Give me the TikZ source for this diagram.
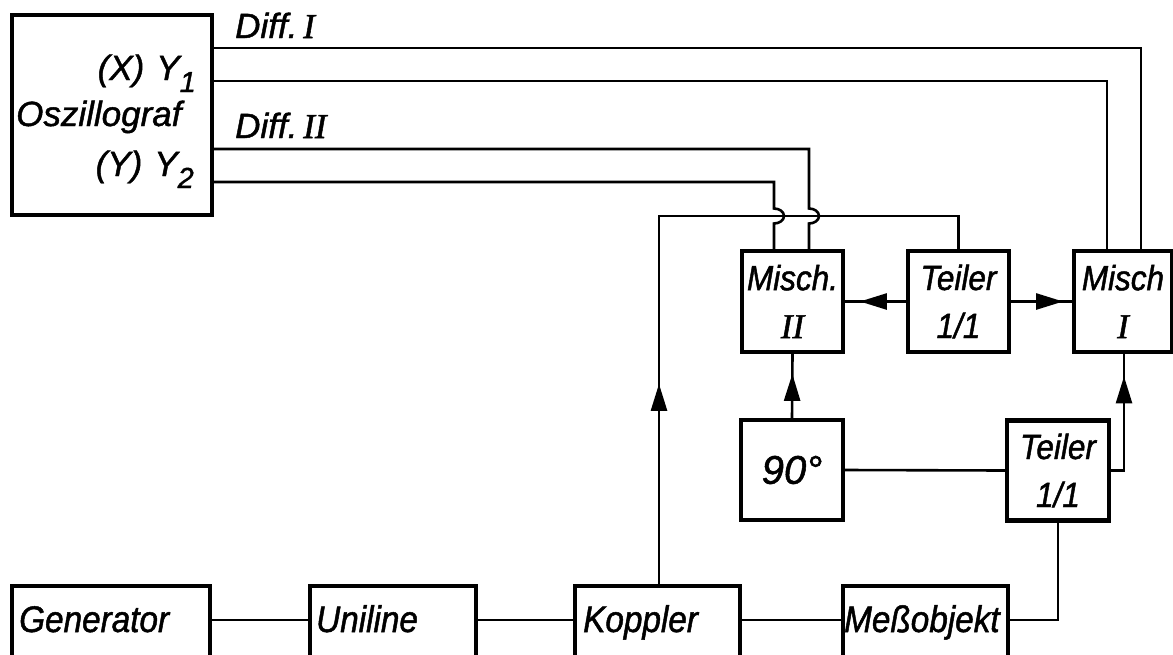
\documentclass[tikz,border=0pt]{standalone}
\usepackage{fontspec}
\setmainfont{Liberation Sans}[FakeBold=1.3]
\newfontfamily\narrowfont{Liberation Sans}[FakeStretch=0.9,FakeBold=1.3]
\newfontfamily\romfont{Liberation Serif}[FakeBold=1.5]
\usetikzlibrary{arrows.meta,decorations.markings}
\newcommand{\RomI}{{\romfont\itshape I}}
\newcommand{\RomII}{{\romfont\itshape II}}
\begin{document}
\begin{tikzpicture}[x=1pt,y=-1pt,
  blk/.style={draw,line width=4.2pt,inner sep=0pt,align=center,
    font=\narrowfont\fontsize{35}{48}\selectfont\itshape},
  wire/.style={line width=2.6pt},
  lbl/.style={inner sep=0pt,font=\fontsize{35}{40}\selectfont\itshape},
  rowlbl/.style={inner sep=0pt,font=\narrowfont\fontsize{37}{40}\selectfont\itshape},
  midarrow/.style={postaction=decorate,decoration={markings,
    mark=at position #1 with {\arrow{Triangle[length=27pt,width=16pt]}}}}
]
\useasboundingbox (0,0) rectangle (1173,654);
\begin{scope}
\clip (0,0) rectangle (1173,654);
% boxes
\node[blk,minimum width=200pt,minimum height=200pt] (osc) at (112,115) {};
\node[blk,minimum width=101pt,minimum height=101pt] (m2) at (792.5,301.5) {Misch.\\\RomII};
\node[blk,minimum width=101pt,minimum height=101pt] (t1) at (958.5,301.5) {Teiler\\1/1};
\node[blk,minimum width=98pt,minimum height=101pt] (m1) at (1123,301.5) {Misch\\\RomI};
\node[blk,minimum width=102pt,minimum height=100pt,font=\fontsize{40}{44}\selectfont\itshape] (n90) at (792,470) {90°};
\node[blk,minimum width=102pt,minimum height=100pt] (t2) at (1058,470.5) {Teiler\\1/1};
\node[blk,minimum width=198pt,minimum height=114pt] (gen) at (111,643) {};
\node[blk,minimum width=166pt,minimum height=114pt] (uni) at (393,643) {};
\node[blk,minimum width=165pt,minimum height=114pt] (kop) at (657.5,643) {};
\node[blk,minimum width=165pt,minimum height=114pt] (mes) at (925.5,643) {};
% labels
\node[lbl,anchor=base east] (oscx) at (196,80) {(X)\hspace{12pt}Y\raisebox{-12pt}{\fontsize{29}{29}\selectfont 1}};
\node[lbl,anchor=base west] (oscn) at (16,126) {Oszillograf};
\node[lbl,anchor=base east] (oscy) at (194,176) {(Y)\hspace{12pt}Y\raisebox{-12pt}{\fontsize{29}{29}\selectfont 2}};
\node[lbl,anchor=base west] (d1) at (235,38) {Diff.\,\RomI};
\node[lbl,anchor=base west] (d2) at (235,138) {Diff.\,\RomII};
\node[rowlbl,anchor=base west] (genl) at (19,632) {Generator};
\node[rowlbl,anchor=base west] (unil) at (316,632) {Uniline};
\node[rowlbl,anchor=base west] (kopl) at (583,632) {Koppler};
\node[rowlbl,anchor=base west] (mesl) at (844,632) {Meßobjekt};
% coordinates
\coordinate (ya) at (1141,48);
\coordinate (yb) at (1107,81);
\coordinate (yc) at (809,149);
\coordinate (yd) at (774,182);
\coordinate (j) at (659,216);
\coordinate (bw) at (0,620);
% wires from oscillograph
\draw[wire] (osc.east |- ya) -- (ya) -- (ya |- m1.north);
\draw[wire] (osc.east |- yb) -- (yb) -- (yb |- m1.north);
\draw[wire] (osc.east |- yc) -- (yc) -- (809,208.5)
  arc[start angle=90,end angle=-90,x radius=10pt,y radius=7.5pt] -- (yc |- m2.north);
\draw[wire] (osc.east |- yd) -- (yd) -- (774,208.5)
  arc[start angle=90,end angle=-90,x radius=10pt,y radius=7.5pt] -- (yd |- m2.north);
% koppler to teiler
\draw[wire,midarrow=200pt] (kop.north -| j) -- (j) -- (j -| t1.north) -- (t1.north);
% teiler upper to mixers
\draw[wire,midarrow=46pt] (t1.west) -- (m2.east);
\draw[wire,midarrow=52pt] (t1.east) -- (m1.west);
% 90 to misch II
\draw[wire,midarrow=44pt] (n90.north) -- (m2.south);
\draw[wire] (n90.east) -- (t2.west);
\draw[wire,midarrow=107pt] (t2.east) -| (1124,352) -- (m1.south -| 1124,0);
\draw[wire] (t2.south) |- (mes.east |- bw);
% bottom row
\draw[wire] (gen.east |- bw) -- (uni.west |- bw);
\draw[wire] (uni.east |- bw) -- (kop.west |- bw);
\draw[wire] (kop.east |- bw) -- (mes.west |- bw);
\end{scope}
\end{tikzpicture}
\end{document}
